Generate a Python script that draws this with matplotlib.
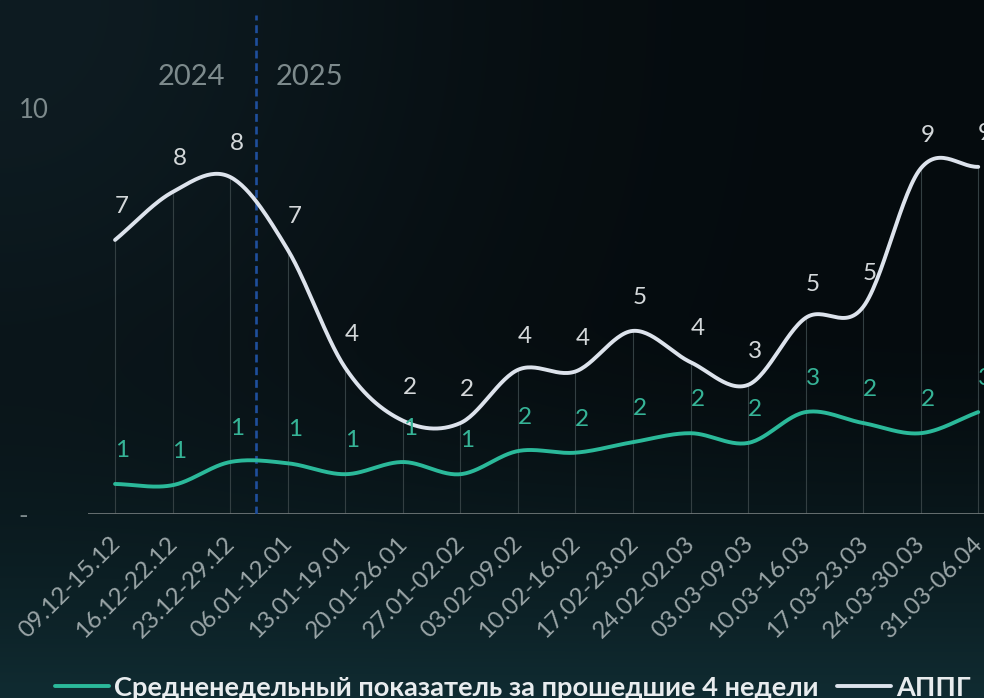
import numpy as np
import matplotlib.pyplot as plt

weeks = ["09.12-15.12", "16.12-22.12", "23.12-29.12", "06.01-12.01", "13.01-19.01",
         "20.01-26.01", "27.01-02.02", "03.02-09.02", "10.02-16.02", "17.02-23.02",
         "24.02-02.03", "03.03-09.03", "10.03-16.03", "17.03-23.03", "24.03-30.03",
         "31.03-06.04"]
avg_4w = [0.74, 0.71, 1.28, 1.25, 0.98, 1.28, 0.98, 1.55, 1.51, 1.77,
          1.99, 1.75, 2.51, 2.24, 1.99, 2.51]
appg = [6.75, 7.93, 8.30, 6.51, 3.60, 2.30, 2.24, 3.55, 3.51, 4.51,
        3.74, 3.18, 4.83, 5.10, 8.51, 8.55]
year_split = 2.45  # between 23.12-29.12 and 06.01-12.01

TEAL = "#2bb99a"
WHITE = "#dde3ec"
FONT = "Lato"


def smooth(y, n=30):
    # uniform Catmull-Rom spline through evenly spaced points
    y = np.asarray(y, float)
    ext = np.concatenate([[2 * y[0] - y[1]], y, [2 * y[-1] - y[-2]]])
    m = (ext[2:] - ext[:-2]) / 2
    xs, ys = [], []
    for i in range(len(y) - 1):
        t = np.linspace(0, 1, n, endpoint=False)
        h00 = 2 * t**3 - 3 * t**2 + 1
        h10 = t**3 - 2 * t**2 + t
        h01 = -2 * t**3 + 3 * t**2
        h11 = t**3 - t**2
        xs.append(i + t)
        ys.append(h00 * y[i] + h10 * m[i] + h01 * y[i + 1] + h11 * m[i + 1])
    xs.append([len(y) - 1])
    ys.append([y[-1]])
    return np.concatenate(xs), np.concatenate(ys)


fig = plt.figure(figsize=(9.84, 6.98), dpi=100)

# background gradient
H, W = 698, 984
yy, xx = np.mgrid[0:1:H * 1j, 0:1:W * 1j]
base = np.array([5, 11, 14]) / 255
glow_b = np.array([16, 44, 50]) / 255
glow_tl = np.array([14, 28, 34]) / 255
w_b = np.clip((yy - 0.45) / 0.55, 0, 1) ** 1.6
w_tl = np.exp(-((xx / 0.45) ** 2 + (yy / 0.7) ** 2))
img = base + (glow_b - base) * w_b[..., None] + (glow_tl - base) * (w_tl * (1 - w_b))[..., None]
bg = fig.add_axes([0, 0, 1, 1], zorder=-1)
bg.imshow(np.clip(img, 0, 1), aspect="auto", extent=[0, 1, 0, 1])
bg.axis("off")

ax = fig.add_axes([88 / 984, (698 - 514) / 698, 1 - 88 / 984, (514 - 15) / 698])
ax.patch.set_alpha(0)
x = np.arange(len(weeks))
ax.set_xlim(-0.47, 15.1)
ax.set_ylim(0, 12.29)

ax.vlines(x, 0, appg, color="#333f42", lw=0.8, zorder=1)
ax.axhline(0, color="#6f7778", lw=2, zorder=2)
ax.axvline(year_split, color="#1f4f9c", lw=1.9, dashes=(3.0, 1.8), zorder=2)

xs, ys = smooth(avg_4w)
ax.plot(xs, ys, color=TEAL, lw=2.8, solid_capstyle="round", zorder=3,
        label="Средненедельный показатель за прошедшие 4 недели")
xs, ys = smooth(appg)
ax.plot(xs, ys, color=WHITE, lw=2.8, solid_capstyle="round", zorder=4, label="АППГ")

for i in x:
    ax.annotate(f"{appg[i]:.0f}", (i, appg[i]), xytext=(5, 24), textcoords="offset points",
                ha="center", va="center", color="#d4d8da", fontsize=17.5, family=FONT, zorder=5)
    ax.annotate(f"{avg_4w[i]:.0f}", (i, avg_4w[i]), xytext=(5, 24), textcoords="offset points",
                ha="center", va="center", color="#36b497", fontsize=17.5, family=FONT, zorder=5)

ax.annotate("2024", (year_split, 10.76), xytext=(-22, 0), textcoords="offset points",
            ha="right", va="center", color="#7d8a8c", fontsize=21, family=FONT)
ax.annotate("2025", (year_split, 10.76), xytext=(14, 0), textcoords="offset points",
            ha="left", va="center", color="#7d8a8c", fontsize=21, family=FONT)

# week labels, rotated, hanging below each point
ax.set_xticks(x, [])
for i, w in zip(x, weeks):
    ax.annotate(w, (i, 0), xytext=(-4.3, -13.5), textcoords="offset points", rotation=45,
                ha="right", va="top", rotation_mode="anchor", color="#9aa5a7",
                fontsize=17.5, family=FONT, annotation_clip=False)

ax.set_yticks([0, 10], ["-", "10"], color="#7d8a8c", fontsize=18.5, family=FONT)
for lab in ax.get_yticklabels():
    lab.set_ha("left")
ax.tick_params(axis="y", length=0, pad=50)
ax.tick_params(axis="x", length=0)
for s in ax.spines.values():
    s.set_visible(False)

fig.legend(loc="center left", bbox_to_anchor=(55 / 984, 10 / 698), ncol=2, frameon=False,
           handlelength=2.0, handletextpad=0.18, columnspacing=0.66, borderpad=0,
           borderaxespad=0, labelcolor="#e8ecee",
           prop={"family": FONT, "size": 19.6, "weight": "bold"})

fig.savefig("out.png", dpi=100)
